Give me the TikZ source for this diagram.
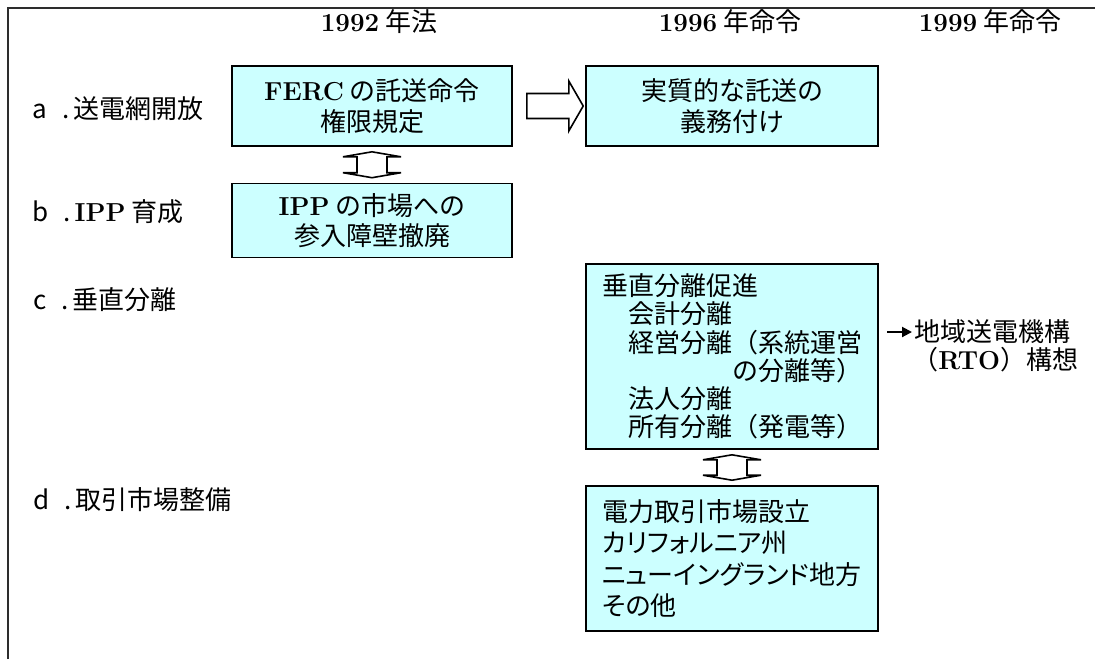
\documentclass[tikz,border=0pt]{standalone}
\usepackage{fontspec}
\newfontfamily\jp{Noto Sans CJK JP}
\newfontfamily\jpprop[CharacterWidth=AlternateProportional]{Noto Sans CJK JP}
\definecolor{boxcyan}{RGB}{204, 255, 255}
\definecolor{framegray}{RGB}{45, 45, 45}
\usetikzlibrary{positioning, calc, arrows.meta}
\newcommand{\bfrm}[1]{{\rmfamily\bfseries #1}}
\newcommand{\rowlabel}[2]{#1\hspace{7.5pt}.\hspace{2pt}#2}

\begin{document}
\begin{tikzpicture}[x=0.5pt, y=-0.5pt,
  every node/.style={font=\jp\fontsize{13pt}{15.5pt}\selectfont, inner sep=0pt},
  cyanbox/.style={draw=black, line width=0.8pt, fill=boxcyan, align=center},
  hollow/.style={draw=black, line width=0.8pt, fill=white, line join=miter}]
  \useasboundingbox (0,0) rectangle (1095,659);

  % Frame
  \draw[framegray, line width=1pt] (8,659) -- (8,8) -- (1095,8);

  % Year headers
  \node (h92) at (379,22) {\bfrm{1992} 年法};
  \node (h96) at (730,22) {\bfrm{1996} 年命令};
  \node (h99) at (990,22) {\bfrm{1999} 年命令};

  % Row labels
  \node[anchor=west] (la) at (32,109) {\rowlabel{a}{送電網開放}};
  \node[anchor=west] (lb) at (32,212) {\rowlabel{b}{\bfrm{IPP} 育成}};
  \node[anchor=west] (lc) at (33,300) {\rowlabel{c}{垂直分離}};
  \node[anchor=west] (ld) at (33,500) {\rowlabel{d}{取引市場整備}};

  % a. transmission access
  \node[cyanbox, minimum width=140pt, minimum height=40pt] (ferc) at (372,106) {\bfrm{FERC} の託送命令\\権限規定};
  \node[cyanbox, minimum width=146pt, minimum height=40pt] (duty) at (732,106) {実質的な託送の\\義務付け};

  % b. IPP
  \node[cyanbox, minimum width=140pt, minimum height=37pt, font=\jp\fontsize{13pt}{15pt}\selectfont] (ipp) at (372,220.5) {\bfrm{IPP} の市場への\\参入障壁撤廃};

  % c. unbundling
  \node[cyanbox, align=left, text width=130pt, minimum width=146pt, minimum height=92.5pt, font=\jp\fontsize{13pt}{14.1pt}\selectfont] (split) at (732,356.5) {
    垂直分離促進\\
    \hspace*{1em}会計分離\\
    \hspace*{1em}経営分離（系統運営\\
    \hspace*{5em}の分離等）\\
    \hspace*{1em}法人分離\\
    \hspace*{1em}所有分離（発電等）};

  % d. power exchange
  \node[cyanbox, align=left, text width=130pt, minimum width=146pt, minimum height=72.5pt, font=\jpprop\fontsize{13pt}{15.75pt}\selectfont] (market) at (732,558.5) {
    電力取引市場設立\\
    カリフォルニア州\\
    ニューイングランド地方\\
    その他};

  % RTO
  \node[anchor=west] (rto) at (914,332) {地域送電機構};
  \node[anchor=west] (rtoB) at (912,360) {（\bfrm{RTO}）構想};
  \coordinate (rtotail) at (887,332);
  \draw[line width=1pt, -{Triangle[length=5pt, width=5pt]}, shorten >=1pt] (rtotail) -- (rto.west);

  % Hollow arrow a
  \draw[hollow] ($(ferc.east)+(14,-12.5)$) -- ($(ferc.east)+(56,-12.5)$) -- ($(ferc.east)+(56,-25)$)
    -- ($(duty.west)+(-2,0)$) -- ($(ferc.east)+(56,25)$) -- ($(ferc.east)+(56,12.5)$)
    -- ($(ferc.east)+(14,12.5)$) -- cycle;

  % Hollow double arrows
  \foreach \ua/\ub in {ferc/ipp, split/market} {
    \coordinate (headT) at ($(\ua.south)+(0,5)$);
    \coordinate (headB) at ($(\ub.north)+(0,-5)$);
    \draw[hollow] (headT) -- ($(headT)+(29,5)$) -- ($(headT)+(15,5)$) -- ($(headB)+(15,-5)$)
      -- ($(headB)+(29,-5)$) -- (headB) -- ($(headB)+(-29,-5)$) -- ($(headB)+(-15,-5)$)
      -- ($(headT)+(-15,5)$) -- ($(headT)+(-29,5)$) -- cycle;
  }
\end{tikzpicture}
\end{document}
